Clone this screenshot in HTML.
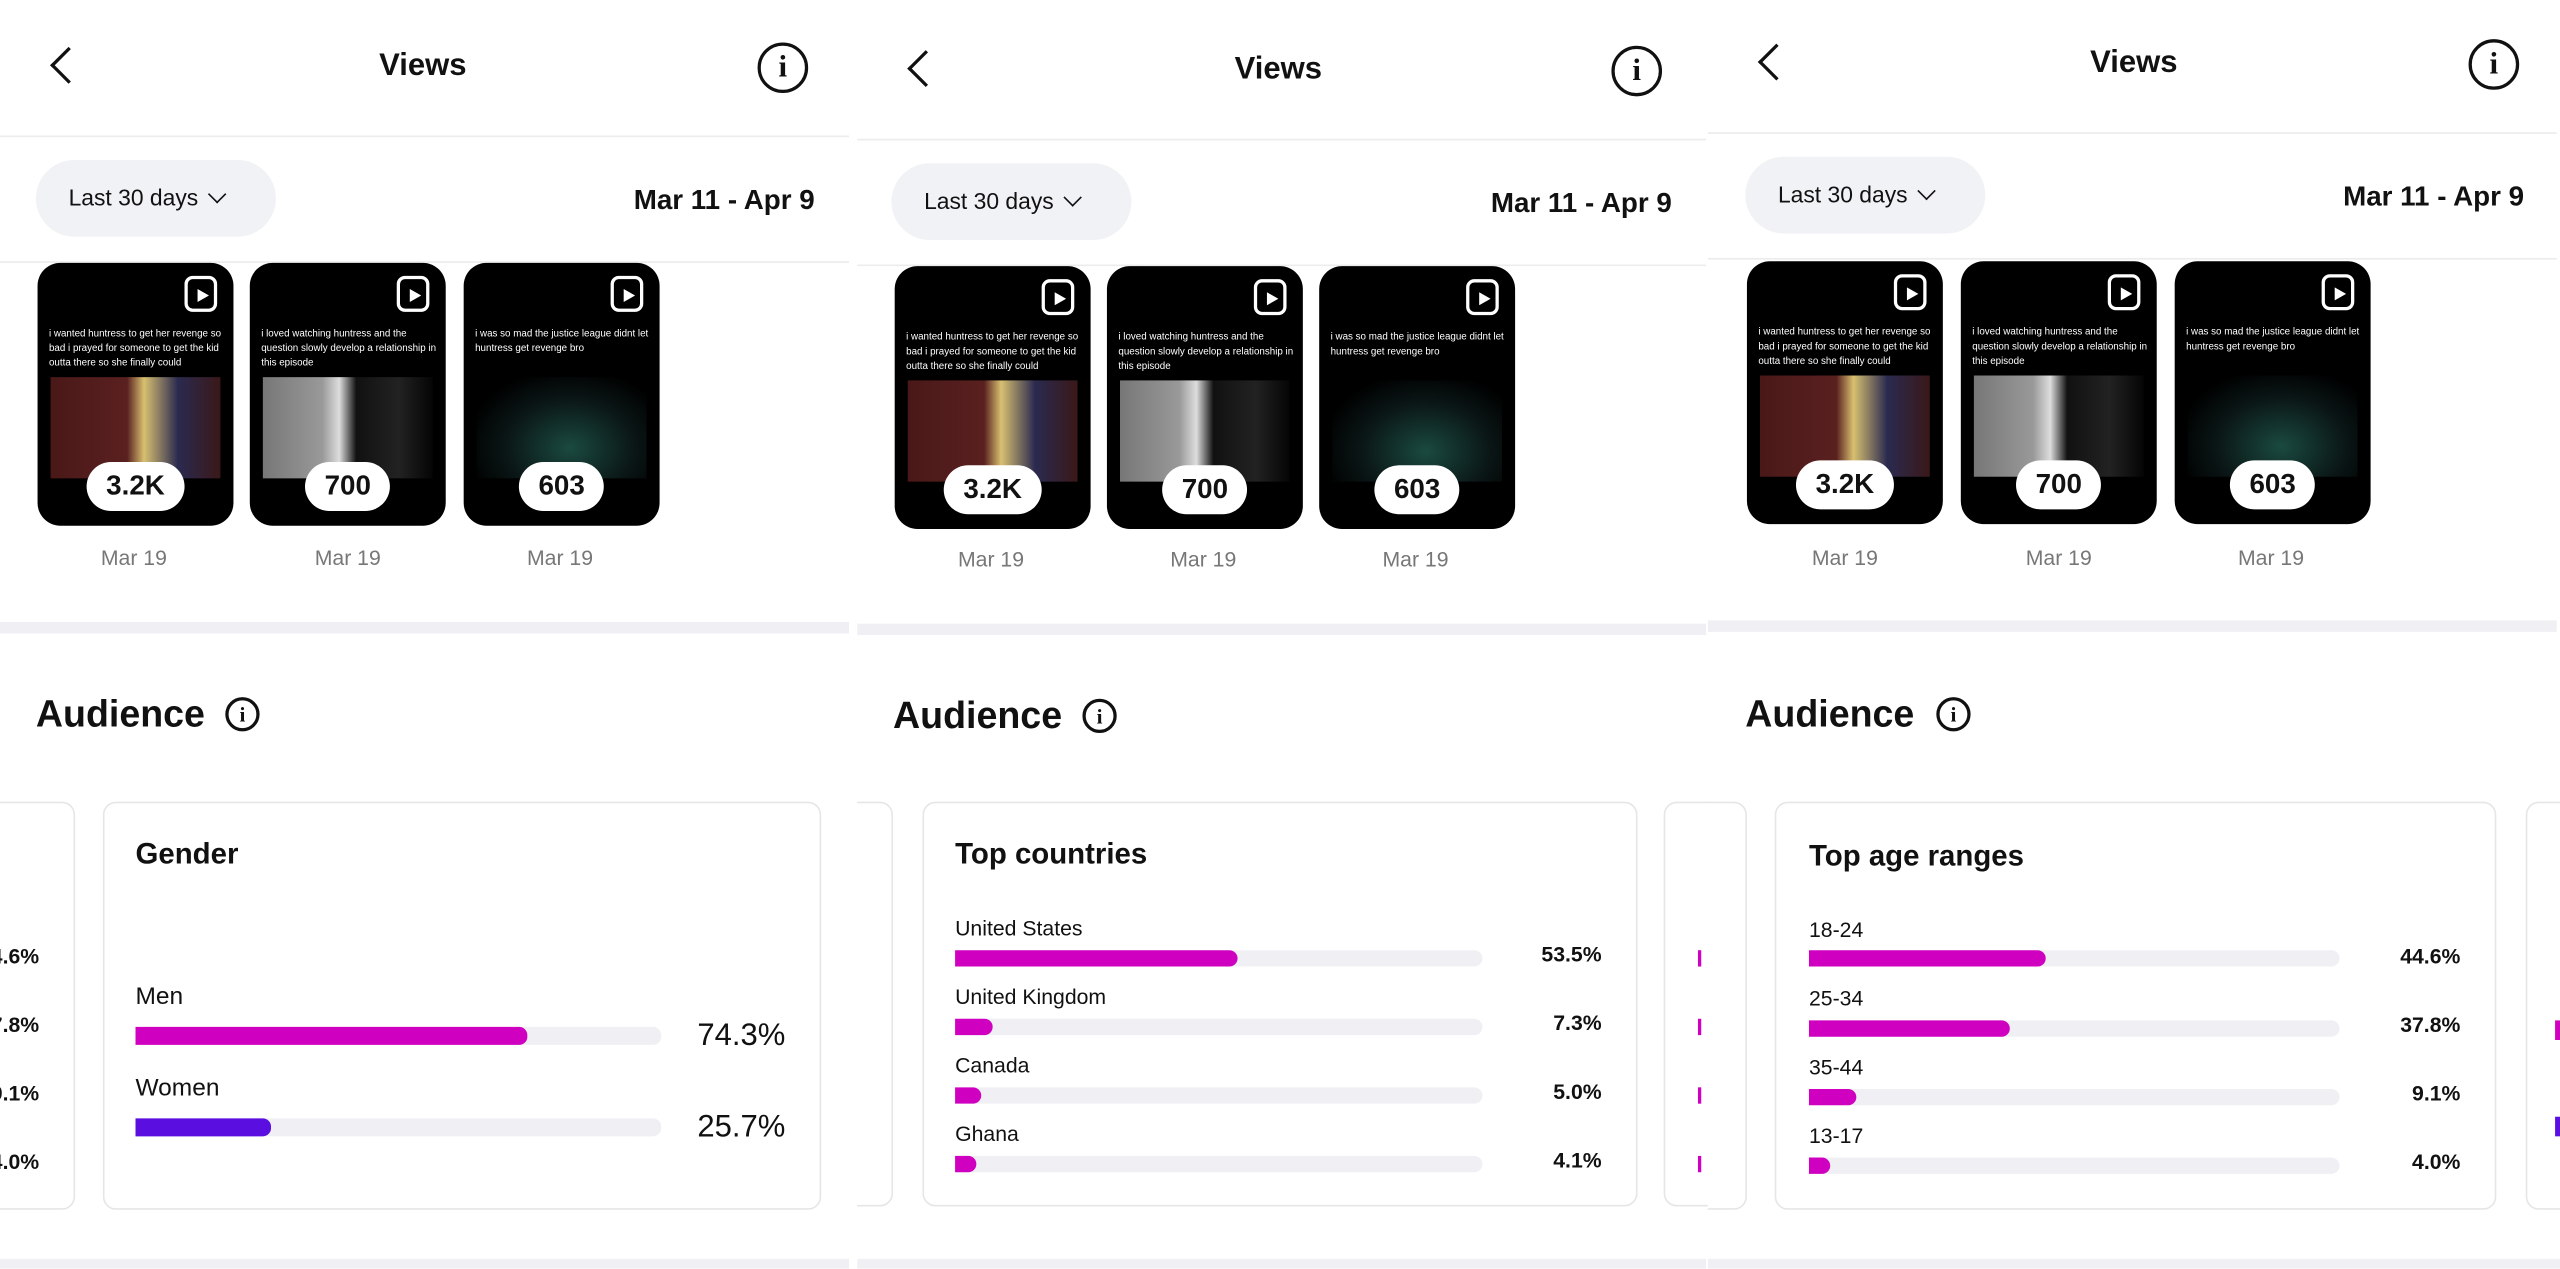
<!DOCTYPE html>
<html><head><meta charset="utf-8"><style>
*{margin:0;padding:0;box-sizing:border-box}
html,body{width:2560px;height:1269px;overflow:hidden;background:#fff}
#w{position:absolute;left:0;top:0;width:1568px;height:777px;transform:scale(1.63265);transform-origin:0 0;font-family:"Liberation Sans",sans-serif;color:#111}
.a{position:absolute}
.p{position:absolute;top:0;width:522px;height:777px;overflow:hidden}
.t{font-weight:bold;font-size:19px;transform:translate(-50%,-50%)}
.sep{position:absolute;height:1px;background:#ececec;left:0;width:520px}
.pill{position:absolute;width:147px;height:47px;border-radius:24px;background:#f1f2f5;font-size:14px;line-height:47px;padding-left:20px}
.date{position:absolute;font-weight:bold;font-size:17px;right:0;text-align:right}
.th{position:absolute;width:120px;height:161px;background:#000;border-radius:14px;overflow:hidden}
.th .tx{position:absolute;left:7px;top:40px;width:110px;color:#fff;font-size:6px;line-height:9px}
.th .im{position:absolute;left:8px;top:70px;width:104px;height:62px}
.th .cnt{position:absolute;left:50%;transform:translateX(-50%);top:122px;height:30px;background:#fff;border-radius:15px;font-weight:bold;font-size:17px;line-height:30px;padding:0 12px;color:#111}
.th .ic{position:absolute;right:10px;top:8px;width:20px;height:22px;border:2.5px solid #fff;border-radius:5px}
.th .ic:after{content:"";position:absolute;left:6px;top:6px;border-left:7px solid #fff;border-top:4.5px solid transparent;border-bottom:4.5px solid transparent}
.d{position:absolute;font-size:13px;color:#777;transform:translateX(-50%)}
.band{position:absolute;left:0;width:520px;height:7px;background:#f0f0f4}
.aud{position:absolute;font-weight:bold;font-size:23px}
.ii{position:absolute;border:2px solid #111;border-radius:50%;text-align:center;font-weight:bold;font-family:"Liberation Serif",serif}
.card{position:absolute;border:1.5px solid #e6e6e6;border-radius:8px;background:#fff}
.h{position:absolute;font-weight:bold;font-size:18px}
.lb{position:absolute;font-size:13px}
.bar{position:absolute;height:10px;background:#f0f0f4;border-radius:5px}
.bar i{position:absolute;left:0;top:0;height:10px;background:#d000c0;border-radius:0 5px 5px 0}
.pc{position:absolute;font-weight:bold;font-size:13px;text-align:right;width:60px}
.chev{position:absolute;width:16px;height:16px;border-left:2.5px solid #111;border-bottom:2.5px solid #111;transform:rotate(45deg)}
.dd{display:inline-block;width:8px;height:8px;border-right:1.5px solid #111;border-bottom:1.5px solid #111;transform:rotate(45deg);margin-left:8px;position:relative;top:-3px}
</style></head><body><div id="w">

<!-- PANEL 1 -->
<div class="p" style="left:0">
 <div class="chev" style="left:34px;top:32px"></div>
 <div class="a t" style="left:259px;top:41px">Views</div>
 <div class="ii" style="left:464px;top:26px;width:31px;height:31px;font-size:19px;line-height:27px;border-width:2.5px">i</div>
 <div class="sep" style="top:83px"></div>
 <div class="pill" style="left:22px;top:98px">Last 30 days<span class="dd"></span></div>
 <div class="date" style="right:23px;top:113px">Mar 11 - Apr 9</div>
 <div class="sep" style="top:160px"></div>
 <div class="th" style="left:23px;top:161px"><div class="ic"></div><div class="tx">i wanted huntress to get her revenge so bad i prayed for someone to get the kid outta there so she finally could</div><div class="im" style="background:linear-gradient(90deg,#4a1818,#5a2020 45%,#d8c070 55%,#2a2a50 75%,#3a1818)"></div><div class="cnt">3.2K</div></div>
 <div class="th" style="left:153px;top:161px"><div class="ic"></div><div class="tx">i loved watching huntress and the question slowly develop a relationship in this episode</div><div class="im" style="background:linear-gradient(90deg,#777,#999 35%,#ddd 45%,#111 55%,#222 80%,#050505)"></div><div class="cnt">700</div></div>
 <div class="th" style="left:284px;top:161px"><div class="ic"></div><div class="tx">i was so mad the justice league didnt let huntress get revenge bro</div><div class="im" style="background:radial-gradient(ellipse at 55% 70%,#1a4a40,#0a1515 50%,#000 80%)"></div><div class="cnt">603</div></div>
 <div class="d" style="left:82px;top:334px">Mar 19</div>
 <div class="d" style="left:213px;top:334px">Mar 19</div>
 <div class="d" style="left:343px;top:334px">Mar 19</div>
 <div class="band" style="top:381px"></div>
 <div class="aud" style="left:22px;top:424px">Audience</div>
 <div class="ii" style="left:138px;top:427px;width:21px;height:21px;font-size:13px;line-height:18px">i</div>
 <div class="card" style="left:-200px;top:491px;width:246px;height:250px"></div>
 <div class="pc" style="left:-36px;top:578px">4.6%</div>
 <div class="pc" style="left:-36px;top:620px">7.8%</div>
 <div class="pc" style="left:-36px;top:662px">9.1%</div>
 <div class="pc" style="left:-36px;top:704px">4.0%</div>
 <div class="card" style="left:63px;top:491px;width:440px;height:250px"></div>
 <div class="h" style="left:83px;top:513px">Gender</div>
 <div class="lb" style="left:83px;top:602px;font-size:15px">Men</div>
 <div class="bar" style="left:83px;top:629px;width:322px;height:11px"><i style="width:240px;height:11px"></i></div>
 <div class="pc" style="left:421px;top:624px;font-size:19px;font-weight:normal">74.3%</div>
 <div class="lb" style="left:83px;top:658px;font-size:15px">Women</div>
 <div class="bar" style="left:83px;top:685px;width:322px;height:11px"><i style="width:83px;height:11px;background:#5a0ee0"></i></div>
 <div class="pc" style="left:421px;top:680px;font-size:19px;font-weight:normal">25.7%</div>
 <div class="band" style="top:771px"></div>
</div>

<!-- PANEL 2 -->
<div class="p" style="left:525px">
 <div class="chev" style="left:34px;top:34px"></div>
 <div class="a t" style="left:258px;top:43px">Views</div>
 <div class="ii" style="left:462px;top:28px;width:31px;height:31px;font-size:19px;line-height:27px;border-width:2.5px">i</div>
 <div class="sep" style="top:85px"></div>
 <div class="pill" style="left:21px;top:100px">Last 30 days<span class="dd"></span></div>
 <div class="date" style="right:23px;top:115px">Mar 11 - Apr 9</div>
 <div class="sep" style="top:162px"></div>
 <div class="th" style="left:23px;top:163px"><div class="ic"></div><div class="tx">i wanted huntress to get her revenge so bad i prayed for someone to get the kid outta there so she finally could</div><div class="im" style="background:linear-gradient(90deg,#4a1818,#5a2020 45%,#d8c070 55%,#2a2a50 75%,#3a1818)"></div><div class="cnt">3.2K</div></div>
 <div class="th" style="left:153px;top:163px"><div class="ic"></div><div class="tx">i loved watching huntress and the question slowly develop a relationship in this episode</div><div class="im" style="background:linear-gradient(90deg,#777,#999 35%,#ddd 45%,#111 55%,#222 80%,#050505)"></div><div class="cnt">700</div></div>
 <div class="th" style="left:283px;top:163px"><div class="ic"></div><div class="tx">i was so mad the justice league didnt let huntress get revenge bro</div><div class="im" style="background:radial-gradient(ellipse at 55% 70%,#1a4a40,#0a1515 50%,#000 80%)"></div><div class="cnt">603</div></div>
 <div class="d" style="left:82px;top:335px">Mar 19</div>
 <div class="d" style="left:212px;top:335px">Mar 19</div>
 <div class="d" style="left:342px;top:335px">Mar 19</div>
 <div class="band" style="top:382px"></div>
 <div class="aud" style="left:22px;top:425px">Audience</div>
 <div class="ii" style="left:138px;top:428px;width:21px;height:21px;font-size:13px;line-height:18px">i</div>
 <div class="card" style="left:-200px;top:491px;width:222px;height:248px"></div>
 <div class="card" style="left:40px;top:491px;width:438px;height:248px"></div>
 <div class="card" style="left:494px;top:491px;width:200px;height:248px"></div>
 <div class="h" style="left:60px;top:513px">Top countries</div>
 <div class="lb" style="left:60px;top:561px">United States</div>
 <div class="bar" style="left:60px;top:582px;width:323px"><i style="width:173px"></i></div>
 <div class="pc" style="left:396px;top:577px">53.5%</div>
 <div class="lb" style="left:60px;top:603px">United Kingdom</div>
 <div class="bar" style="left:60px;top:624px;width:323px"><i style="width:23px"></i></div>
 <div class="pc" style="left:396px;top:619px">7.3%</div>
 <div class="lb" style="left:60px;top:645px">Canada</div>
 <div class="bar" style="left:60px;top:666px;width:323px"><i style="width:16px"></i></div>
 <div class="pc" style="left:396px;top:661px">5.0%</div>
 <div class="lb" style="left:60px;top:687px">Ghana</div>
 <div class="bar" style="left:60px;top:708px;width:323px"><i style="width:13px"></i></div>
 <div class="pc" style="left:396px;top:703px">4.1%</div>
 <div class="a" style="left:515px;top:582px;width:2px;height:10px;background:#d000c0"></div>
 <div class="a" style="left:515px;top:624px;width:2px;height:10px;background:#d000c0"></div>
 <div class="a" style="left:515px;top:666px;width:2px;height:10px;background:#d000c0"></div>
 <div class="a" style="left:515px;top:708px;width:2px;height:10px;background:#d000c0"></div>
 <div class="band" style="top:771px"></div>
</div>

<!-- PANEL 3 -->
<div class="p" style="left:1046px">
 <div class="chev" style="left:34px;top:30px"></div>
 <div class="a t" style="left:261px;top:39px">Views</div>
 <div class="ii" style="left:466px;top:24px;width:31px;height:31px;font-size:19px;line-height:27px;border-width:2.5px">i</div>
 <div class="sep" style="top:81px"></div>
 <div class="pill" style="left:23px;top:96px">Last 30 days<span class="dd"></span></div>
 <div class="date" style="right:22px;top:111px">Mar 11 - Apr 9</div>
 <div class="sep" style="top:158px"></div>
 <div class="th" style="left:24px;top:160px"><div class="ic"></div><div class="tx">i wanted huntress to get her revenge so bad i prayed for someone to get the kid outta there so she finally could</div><div class="im" style="background:linear-gradient(90deg,#4a1818,#5a2020 45%,#d8c070 55%,#2a2a50 75%,#3a1818)"></div><div class="cnt">3.2K</div></div>
 <div class="th" style="left:155px;top:160px"><div class="ic"></div><div class="tx">i loved watching huntress and the question slowly develop a relationship in this episode</div><div class="im" style="background:linear-gradient(90deg,#777,#999 35%,#ddd 45%,#111 55%,#222 80%,#050505)"></div><div class="cnt">700</div></div>
 <div class="th" style="left:286px;top:160px"><div class="ic"></div><div class="tx">i was so mad the justice league didnt let huntress get revenge bro</div><div class="im" style="background:radial-gradient(ellipse at 55% 70%,#1a4a40,#0a1515 50%,#000 80%)"></div><div class="cnt">603</div></div>
 <div class="d" style="left:84px;top:334px">Mar 19</div>
 <div class="d" style="left:215px;top:334px">Mar 19</div>
 <div class="d" style="left:345px;top:334px">Mar 19</div>
 <div class="band" style="top:380px"></div>
 <div class="aud" style="left:23px;top:424px">Audience</div>
 <div class="ii" style="left:140px;top:427px;width:21px;height:21px;font-size:13px;line-height:18px">i</div>
 <div class="card" style="left:-200px;top:491px;width:224px;height:250px"></div>
 <div class="card" style="left:41px;top:491px;width:442px;height:250px"></div>
 <div class="card" style="left:501px;top:491px;width:200px;height:250px"></div>
 <div class="h" style="left:62px;top:514px">Top age ranges</div>
 <div class="lb" style="left:62px;top:562px">18-24</div>
 <div class="bar" style="left:62px;top:582px;width:325px"><i style="width:145px"></i></div>
 <div class="pc" style="left:401px;top:578px">44.6%</div>
 <div class="lb" style="left:62px;top:604px">25-34</div>
 <div class="bar" style="left:62px;top:625px;width:325px"><i style="width:123px"></i></div>
 <div class="pc" style="left:401px;top:620px">37.8%</div>
 <div class="lb" style="left:62px;top:646px">35-44</div>
 <div class="bar" style="left:62px;top:667px;width:325px"><i style="width:29px"></i></div>
 <div class="pc" style="left:401px;top:662px">9.1%</div>
 <div class="lb" style="left:62px;top:688px">13-17</div>
 <div class="bar" style="left:62px;top:709px;width:325px"><i style="width:13px"></i></div>
 <div class="pc" style="left:401px;top:704px">4.0%</div>
 <div class="a" style="left:-6px;top:582px;width:2px;height:10px;background:#d000c0"></div>
 <div class="a" style="left:-6px;top:624px;width:2px;height:10px;background:#d000c0"></div>
 <div class="a" style="left:-6px;top:666px;width:2px;height:10px;background:#d000c0"></div>
 <div class="a" style="left:-6px;top:708px;width:2px;height:10px;background:#d000c0"></div>
 <div class="a" style="left:519px;top:625px;width:3px;height:12px;background:#d000c0"></div>
 <div class="a" style="left:519px;top:684px;width:3px;height:12px;background:#5a0ee0"></div>
 <div class="band" style="top:771px;width:522px"></div>
</div>

</div></body></html>
